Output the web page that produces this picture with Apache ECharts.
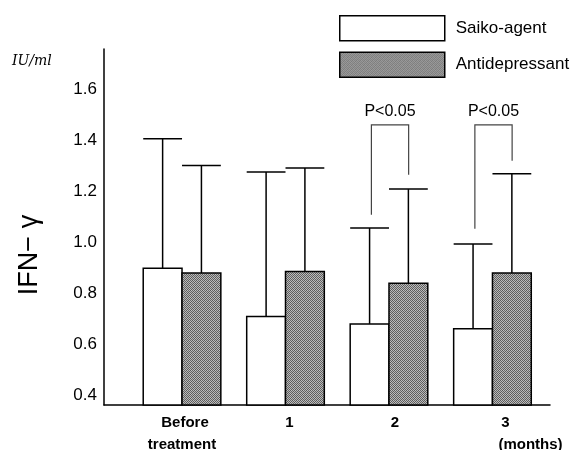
<!DOCTYPE html>
<html>
<head>
<meta charset="utf-8">
<script src="https://cdn.jsdelivr.net/npm/echarts@6/dist/echarts.min.js"></script>
<style>html,body{margin:0;padding:0;background:#fff;}#c{width:587px;height:450px;}</style>
</head>
<body>
<div id="c"></div>
<script>
// ---- data ----
var categories = ['Before\ntreatment', '1', '2', '3\n(months)'];
var seriesNames = ['Saiko-agent', 'Antidepressant'];
var saiko = [0.898, 0.708, 0.679, 0.660];
var saikoUpper = [1.407, 1.276, 1.056, 0.993];
var anti = [0.879, 0.885, 0.839, 0.879];
var antiUpper = [1.302, 1.292, 1.209, 1.269];
var yTicks = [0.4, 0.6, 0.8, 1.0, 1.2, 1.4, 1.6];
var bracketGroups = [2, 3];
var bracketTop = [1.462, 1.462];
var bracketLeftEnd = [1.108, 1.053];
var bracketRightEnd = [1.265, 1.321];
var bracketLabels = ['P<0.05', 'P<0.05'];

// ---- styling helpers ----
var Y_MIN = 0.36, Y_MAX = 1.76;
var BAR_UNITS = 0.375;
var FONT = '"Liberation Sans", Arial, sans-serif';

function makePattern() {
  var cv = document.createElement('canvas');
  cv.width = 4; cv.height = 4;
  var ctx = cv.getContext('2d');
  var cols = [
    ['#5a5a5a', '#bebebe', '#666666', '#b4b4b4'],
    ['#b8b8b8', '#606060', '#c0c0c0', '#585858'],
    ['#686868', '#bababa', '#565656', '#c2c2c2'],
    ['#b2b2b2', '#5e5e5e', '#b6b6b6', '#646464']
  ];
  for (var r = 0; r < 4; r++) for (var c = 0; c < 4; c++) {
    ctx.fillStyle = cols[r][c]; ctx.fillRect(c, r, 1, 1);
  }
  return { image: cv, repeat: 'repeat' };
}
var greyFill = makePattern();
var fills = ['#ffffff', greyFill];

function barSeries(idx, values, uppers) {
  var data = values.map(function (v, i) { return [i, v, uppers[i]]; });
  return {
    type: 'custom',
    name: seriesNames[idx],
    data: data,
    itemStyle: { color: fills[idx] },
    renderItem: function (params, api) {
      var x = api.value(0), v = api.value(1), up = api.value(2);
      var top = api.coord([x, v]);
      var base = api.coord([x, Y_MIN]);
      var upPt = api.coord([x, up]);
      var w = api.size([BAR_UNITS, 0])[0];
      var cx = top[0] + (idx === 0 ? -w / 2 : w / 2);
      return {
        type: 'group',
        children: [
          { type: 'line', shape: { x1: cx, y1: top[1], x2: cx, y2: upPt[1] },
            style: { stroke: '#000', lineWidth: 1.5 } },
          { type: 'line', shape: { x1: cx - w / 2, y1: upPt[1], x2: cx + w / 2, y2: upPt[1] },
            style: { stroke: '#000', lineWidth: 1.5 } },
          { type: 'rect', shape: { x: cx - w / 2, y: top[1], width: w, height: base[1] - top[1] },
            style: { fill: fills[idx], stroke: '#000', lineWidth: 1.5 } }
        ]
      };
    }
  };
}

var bracketData = bracketGroups.map(function (g, i) {
  return [g, bracketTop[i], bracketLeftEnd[i], bracketRightEnd[i]];
});

var bracketSeries = {
  type: 'custom',
  data: bracketData,
  silent: true,
  renderItem: function (params, api) {
    var g = api.value(0);
    var t = api.coord([g - 0.17, api.value(1)]);
    var l = api.coord([g - 0.17, api.value(2)]);
    var r = api.coord([g + 0.19, api.value(3)]);
    var tr = api.coord([g + 0.19, api.value(1)]);
    return {
      type: 'group',
      children: [
        { type: 'polyline', shape: { points: [[l[0], l[1]], [t[0], t[1]], [tr[0], tr[1]], [r[0], r[1]]] },
          style: { stroke: '#444', lineWidth: 1.2, fill: null } },
        { type: 'text', x: (t[0] + tr[0]) / 2, y: t[1] - 13,
          style: { text: bracketLabels[params.dataIndex], fill: '#000', font: '16px ' + FONT,
                   align: 'center', verticalAlign: 'middle' } }
      ]
    };
  }
};

var chart = echarts.init(document.getElementById('c'));
chart.setOption({
  animation: false,
  backgroundColor: '#fff',
  grid: { left: 104, right: 37, top: 49, bottom: 45, containLabel: false, outerBoundsMode: 'none' },
  legend: {
    orient: 'vertical', left: 339, top: 15, padding: 0,
    itemWidth: 105, itemHeight: 25, itemGap: 10,
    textStyle: { fontSize: 17, color: '#000', fontFamily: FONT, padding: [0, 0, 0, 6] },
    data: [
      { name: seriesNames[0], icon: 'rect', itemStyle: { color: '#fff', borderColor: '#000', borderWidth: 1.5 } },
      { name: seriesNames[1], icon: 'rect', itemStyle: { color: greyFill, borderColor: '#000', borderWidth: 1.5 } }
    ],
    selectedMode: false
  },
  xAxis: {
    type: 'value', min: -0.754, max: 3.556,
    splitLine: { show: false },
    axisTick: { show: false },
    axisLine: { onZero: false, lineStyle: { color: '#000', width: 1.5 } },
    axisLabel: {
      customValues: [0, 1, 2, 3],
      margin: 7,
      color: '#000',
      formatter: function (v) {
        var i = Math.round(v);
        var lines = categories[i].split('\n');
        if (i === 0) return '{b0|' + lines[0] + '}\n{b|' + lines[1] + '}';
        if (i === 1) return '{n1|' + lines[0] + '}';
        if (i === 2) return '{n2|' + lines[0] + '}';
        return '{n3|' + lines[0] + '}\n{m|' + lines[1] + '}';
      },
      rich: {
        b0: { fontSize: 15, fontWeight: 'bold', fontFamily: FONT, lineHeight: 22, padding: [0, 0, 0, 6], color: '#000' },
        b: { fontSize: 15, fontWeight: 'bold', fontFamily: FONT, lineHeight: 22, color: '#000' },
        n1: { fontSize: 15, fontWeight: 'bold', fontFamily: FONT, lineHeight: 22, padding: [0, 0, 0, 8], color: '#000' },
        n2: { fontSize: 15, fontWeight: 'bold', fontFamily: FONT, lineHeight: 22, padding: [0, 0, 0, 12], color: '#000' },
        n3: { fontSize: 15, fontWeight: 'bold', fontFamily: FONT, lineHeight: 22, padding: [0, 0, 0, 26], color: '#000' },
        m: { fontSize: 15, fontWeight: 'bold', fontFamily: FONT, lineHeight: 22, padding: [0, 0, 0, 76], color: '#000' }
      }
    }
  },
  yAxis: {
    type: 'value', min: Y_MIN, max: Y_MAX,
    splitLine: { show: false },
    axisTick: { show: false },
    axisLine: { show: true, onZero: false, lineStyle: { color: '#000', width: 1.5 } },
    axisLabel: {
      customValues: yTicks,
      margin: 7,
      color: '#000',
      fontSize: 17,
      fontFamily: FONT,
      formatter: function (v) { return v.toFixed(1); }
    }
  },
  graphic: [
    { type: 'text', left: 12, top: 54,
      style: { text: 'IU/ml', font: 'italic 14px "DejaVu Serif", serif', fill: '#000' } },
    { type: 'text', x: 30, y: 255, rotation: Math.PI / 2,
      style: { text: 'IFN\u2212 \u03b3', font: '27px ' + FONT, fill: '#000', align: 'center', verticalAlign: 'middle' } }
  ],
  series: [
    barSeries(0, saiko, saikoUpper),
    barSeries(1, anti, antiUpper),
    bracketSeries
  ]
});
</script>
</body>
</html>
